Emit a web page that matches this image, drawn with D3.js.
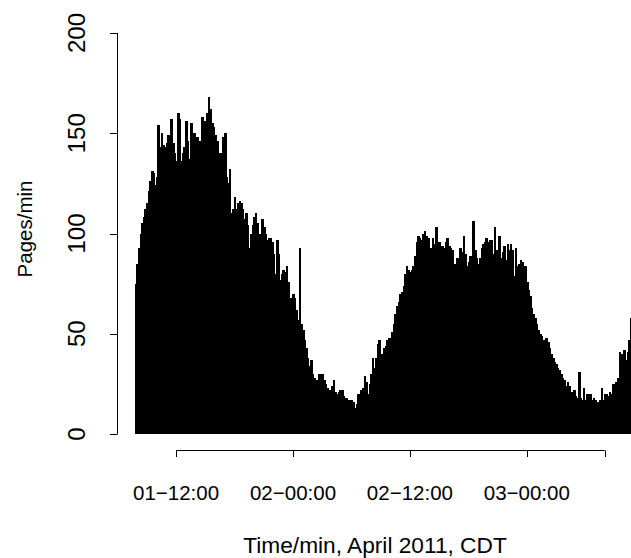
<!DOCTYPE html>
<html>
<head>
<meta charset="utf-8">
<script src="https://cdn.jsdelivr.net/npm/d3@7/dist/d3.min.js"></script>
<style>
  html, body { margin: 0; padding: 0; background: #fff; }
  text { font-family: "Liberation Sans", Arial, sans-serif; fill: #000; }
</style>
</head>
<body>
<div id="chart"></div>
<script>
// pages per minute, sampled every 10 minutes from 2011-04-01 07:45 CDT
const startTime = new Date(Date.UTC(2011, 3, 1, 7, 45));
const stepMinutes = 10;
const pages = [
  75, 85, 93, 100, 105, 108, 112, 115, 121, 126, 131, 130, 124, 128, 154, 143, 150, 144, 143, 145,
  149, 143, 157, 145, 140, 136, 160, 157, 136, 140, 143, 156, 146, 137, 155, 138, 150, 137, 148, 146,
  138, 158, 156, 153, 160, 168, 162, 155, 153, 149, 146, 134, 140, 133, 148, 150, 128, 125, 132, 110,
  112, 118, 112, 115, 116, 115, 112, 107, 110, 104, 93, 100, 104, 108, 110, 105, 100, 92, 107, 103,
  100, 97, 98, 98, 96, 90, 80, 97, 90, 77, 80, 82, 81, 84, 76, 68, 65, 70, 68, 62,
  57, 93, 55, 52, 47, 43, 38, 34, 37, 30, 28, 27, 23, 30, 27, 30, 27, 25, 23, 22,
  22, 24, 27, 21, 20, 21, 22, 22, 19, 18, 18, 17, 17, 17, 16, 13, 15, 20, 19, 22,
  23, 29, 26, 20, 25, 30, 38, 33, 38, 45, 47, 38, 40, 43, 44, 47, 48, 47, 51, 55,
  60, 64, 66, 70, 71, 74, 80, 84, 82, 81, 82, 84, 89, 96, 99, 98, 97, 100, 101, 99,
  98, 93, 93, 98, 95, 103, 93, 96, 94, 94, 93, 96, 98, 94, 93, 92, 85, 83, 88, 84,
  93, 91, 99, 90, 84, 86, 89, 88, 106, 92, 88, 85, 88, 93, 95, 96, 98, 96, 97, 97,
  90, 103, 92, 89, 99, 88, 91, 94, 87, 95, 92, 95, 92, 79, 93, 84, 85, 87, 86, 80,
  84, 76, 72, 69, 63, 60, 58, 55, 52, 50, 49, 47, 46, 48, 46, 43, 40, 38, 36, 35,
  33, 32, 30, 28, 27, 24, 26, 24, 20, 21, 22, 19, 18, 31, 18, 17, 23, 17, 20, 19,
  20, 17, 18, 17, 15, 16, 17, 23, 17, 20, 20, 19, 21, 20, 25, 24, 26, 28, 41, 40,
  38, 42, 37, 41, 47, 58
];

const xTicks = [
  new Date(Date.UTC(2011, 3, 1, 12)),
  new Date(Date.UTC(2011, 3, 2, 0)),
  new Date(Date.UTC(2011, 3, 2, 12)),
  new Date(Date.UTC(2011, 3, 3, 0)),
  new Date(Date.UTC(2011, 3, 3, 8))
];
const xTickLabels = ['01\u221212:00', '02\u221200:00', '02\u221212:00', '03\u221200:00', ''];
const yTicks = [0, 50, 100, 150, 200];

const width = 631, height = 558;
const plot = { left: 117, right: 633, top: 17, bottom: 450 };

const svg = d3.select('#chart')
  .append('svg')
  .attr('width', width)
  .attr('height', height);

svg.append('rect')
  .attr('width', width)
  .attr('height', height)
  .attr('fill', '#fff');

const x = d3.scaleTime()
  .domain([new Date(Date.UTC(2011, 3, 1, 5, 56)), new Date(Date.UTC(2011, 3, 3, 10, 54))])
  .range([plot.left, plot.right]);

const y = d3.scaleLinear()
  .domain([-8, 208])
  .range([plot.bottom, plot.top]);

const times = pages.map((_, i) => d3.utcMinute.offset(startTime, i * stepMinutes));

svg.append('clipPath')
  .attr('id', 'plot-clip')
  .append('rect')
  .attr('x', plot.left)
  .attr('y', plot.top)
  .attr('width', plot.right - plot.left)
  .attr('height', plot.bottom - plot.top);

svg.append('g')
  .attr('clip-path', 'url(#plot-clip)')
  .selectAll('.bar')
  .data(pages)
  .enter()
  .append('rect')
  .attr('class', 'bar')
  .attr('x', (_, i) => x(times[i]))
  .attr('width', (_, i) => x(d3.utcMinute.offset(times[i], stepMinutes)) - x(times[i]) + 1)
  .attr('y', d => y(d))
  .attr('height', d => y(0) - y(d))
  .attr('fill', '#000')
  .attr('shape-rendering', 'crispEdges');

// y axis, R style: line between first and last tick, rotated labels
const yAxis = svg.append('g');
yAxis.append('line')
  .attr('x1', plot.left + 0.5)
  .attr('x2', plot.left + 0.5)
  .attr('y1', y(yTicks[0]))
  .attr('y2', y(yTicks[yTicks.length - 1]))
  .attr('stroke', '#000');
yAxis.selectAll('.ytick')
  .data(yTicks)
  .enter()
  .append('line')
  .attr('x1', plot.left + 0.5)
  .attr('x2', plot.left - 7)
  .attr('y1', d => Math.round(y(d)) + 0.5)
  .attr('y2', d => Math.round(y(d)) + 0.5)
  .attr('stroke', '#000');
yAxis.selectAll('.ylabel')
  .data(yTicks)
  .enter()
  .append('text')
  .attr('transform', d => `translate(85,${y(d)}) rotate(-90)`)
  .attr('text-anchor', 'middle')
  .style('font-size', '24px')
  .text(d => d);

// x axis
const xAxis = svg.append('g');
xAxis.append('line')
  .attr('x1', x(xTicks[0]))
  .attr('x2', x(xTicks[xTicks.length - 1]))
  .attr('y1', plot.bottom + 0.5)
  .attr('y2', plot.bottom + 0.5)
  .attr('stroke', '#000');
xAxis.selectAll('.xtick')
  .data(xTicks)
  .enter()
  .append('line')
  .attr('x1', d => Math.round(x(d)) + 0.5)
  .attr('x2', d => Math.round(x(d)) + 0.5)
  .attr('y1', plot.bottom + 0.5)
  .attr('y2', plot.bottom + 7)
  .attr('stroke', '#000');
xAxis.selectAll('.xlabel')
  .data(xTicks)
  .enter()
  .append('text')
  .attr('x', d => x(d))
  .attr('y', 500)
  .attr('text-anchor', 'middle')
  .style('font-size', '20.5px')
  .text((_, i) => xTickLabels[i]);

svg.append('text')
  .attr('x', (plot.left + plot.right) / 2)
  .attr('y', 553)
  .attr('text-anchor', 'middle')
  .style('font-size', '22.7px')
  .text('Time/min, April 2011, CDT');

svg.append('text')
  .attr('transform', 'translate(32,229) rotate(-90)')
  .attr('text-anchor', 'middle')
  .style('font-size', '20.5px')
  .text('Pages/min');
</script>
</body>
</html>
